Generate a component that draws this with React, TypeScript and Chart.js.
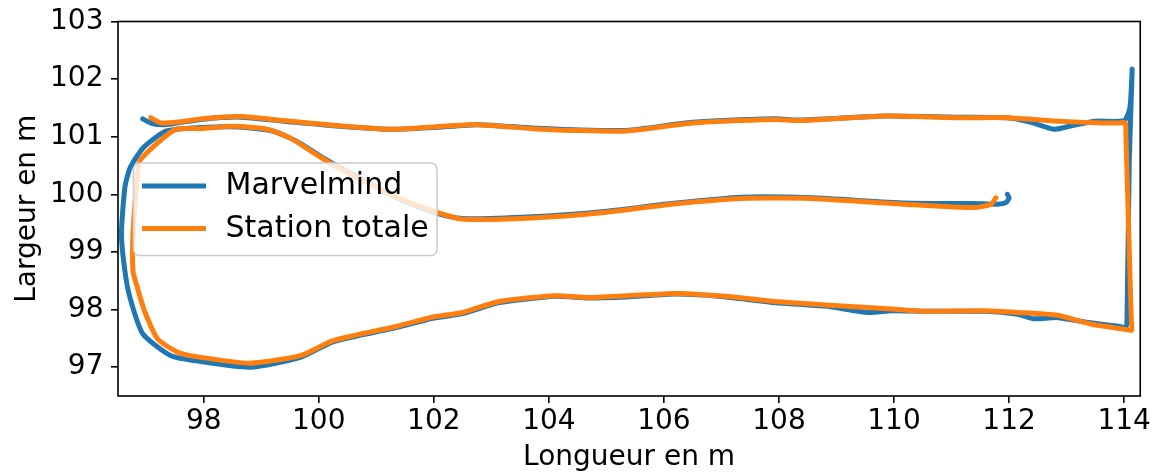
import React, { useEffect, useRef } from 'react';
import { Chart, registerables } from 'chart.js';

Chart.register(...registerables);

const seriesLabels = ['Marvelmind', 'Station totale'];
const seriesColors = ['#1f77b4', '#ff7f0e'];
const xTitle = 'Longueur en m';
const yTitle = 'Largeur en m';
const xTicks = [98, 100, 102, 104, 106, 108, 110, 112, 114];
const yTicks = [97, 98, 99, 100, 101, 102, 103];

const marvelmindX = [
  96.94, 97.10, 97.35, 97.95, 98.64, 99.39, 100.25, 101.23, 101.98, 102.78, 103.71, 104.45, 105.35,
  106.50, 107.94, 108.35, 109.84, 111.11, 111.97, 112.38, 112.78, 113.12, 113.50, 114.00, 114.10,
  114.14, 114.09, 114.05, 114.03, 113.90, 113.41, 112.84, 112.43, 112.15, 111.57, 110.53, 109.96, 109.55, 108.81,
  107.94, 107.08, 106.22, 105.35, 104.68, 104.11, 103.13, 102.50, 101.98, 101.40, 100.25, 99.68,
  98.81, 97.94, 97.43, 96.94, 96.72, 96.63, 96.57, 96.63, 96.72, 96.95, 97.35, 97.95, 98.60, 99.20,
  99.62, 100.10, 100.45, 101.40, 102.02, 102.49, 103.70, 104.92, 106.13, 107.35, 108.56, 110.18,
  111.39, 111.80, 111.95, 112.00, 111.97,
];
const marvelmindY = [
  101.31, 101.23, 101.21, 101.30, 101.34, 101.27, 101.19, 101.13, 101.16, 101.21, 101.15, 101.12, 101.11,
  101.25, 101.31, 101.29, 101.36, 101.34, 101.33, 101.25, 101.13, 101.20, 101.27, 101.28, 101.50,
  102.17, 100.60, 97.85, 97.69, 97.71, 97.77, 97.86, 97.84, 97.92, 97.97, 97.97, 97.98, 97.95, 98.06,
  98.12, 98.22, 98.27, 98.22, 98.20, 98.23, 98.12, 97.93, 97.85, 97.70, 97.44, 97.17,
  97.00, 97.10, 97.20, 97.58, 98.20, 98.67, 99.31, 100.12, 100.46, 100.81, 101.10, 101.16, 101.17, 101.10,
  100.92, 100.62, 100.42, 99.92, 99.68, 99.58, 99.61, 99.70, 99.84, 99.95, 99.94, 99.85,
  99.84, 99.83, 99.86, 99.94, 100.00,
];

const stationX = [
  97.08, 97.26, 97.58, 97.95, 98.64, 99.39, 100.25, 101.23, 101.98, 102.78, 103.71, 104.45, 105.35,
  106.50, 107.94, 108.35, 109.84, 111.11, 111.97, 112.84, 113.60, 113.90, 114.02, 114.03, 114.125, 114.13, 114.00, 113.41, 112.84,
  112.15, 111.57, 110.53, 109.96, 108.81, 107.94, 107.08, 106.22, 105.35, 104.68, 104.11, 103.13,
  102.50, 101.98, 101.40, 100.25, 99.68, 98.81, 97.95, 97.55, 97.20, 96.97, 96.83, 96.77, 96.77,
  96.83, 96.89, 97.23, 97.52, 97.95, 98.52, 99.10, 99.50, 99.96, 100.34, 101.38, 102.02, 102.49,
  103.70, 104.92, 106.13, 107.35, 108.56, 110.18, 111.39, 111.69, 111.77,
];
const stationY = [
  101.33, 101.24, 101.26, 101.31, 101.35, 101.28, 101.20, 101.13, 101.17, 101.21, 101.14, 101.11, 101.10,
  101.24, 101.30, 101.28, 101.36, 101.33, 101.33, 101.27, 101.24, 101.24, 101.24, 101.05, 97.80, 97.64, 97.66, 97.75, 97.90,
  97.95, 97.98, 97.97, 98.01, 98.08, 98.14, 98.23, 98.28, 98.24, 98.21, 98.24, 98.14,
  97.95, 97.87, 97.72, 97.46, 97.20, 97.07, 97.17, 97.26, 97.49, 97.98, 98.44, 98.67, 99.31,
  100.12, 100.58, 100.92, 101.13, 101.14, 101.18, 101.13, 100.98, 100.69, 100.46, 99.94, 99.70, 99.57,
  99.59, 99.68, 99.83, 99.93, 99.93, 99.83, 99.77, 99.83, 99.94,
];

const FONT = '"DejaVu Sans", "Liberation Sans", sans-serif';

const frameLegendPlugin = {
  id: 'frameLegend',
  afterDatasetsDraw(chart: any) {
    const { ctx, chartArea: a } = chart;
    ctx.save();
    // axes frame (all four spines)
    ctx.strokeStyle = '#000';
    ctx.lineWidth = 1.6;
    ctx.strokeRect(a.left, a.top, a.right - a.left, a.bottom - a.top);

    // legend box (upper-left area, inside the axes)
    const bx = a.left + 15.5;
    const by = a.top + 141.5;
    const bw = 303.5;
    const bh = 92.5;
    const r = 6;
    ctx.beginPath();
    ctx.moveTo(bx + r, by);
    ctx.lineTo(bx + bw - r, by);
    ctx.arcTo(bx + bw, by, bx + bw, by + r, r);
    ctx.lineTo(bx + bw, by + bh - r);
    ctx.arcTo(bx + bw, by + bh, bx + bw - r, by + bh, r);
    ctx.lineTo(bx + r, by + bh);
    ctx.arcTo(bx, by + bh, bx, by + bh - r, r);
    ctx.lineTo(bx, by + r);
    ctx.arcTo(bx, by, bx + r, by, r);
    ctx.closePath();
    ctx.fillStyle = 'rgba(255,255,255,0.8)';
    ctx.fill();
    ctx.strokeStyle = '#cccccc';
    ctx.lineWidth = 1.6;
    ctx.stroke();

    const ds = chart.data.datasets;
    const order = [1, 0];
    order.forEach((di: number, row: number) => {
      const d = ds[di];
      const cy = by + 23 + row * 42.5;
      ctx.beginPath();
      ctx.strokeStyle = d.borderColor;
      ctx.lineWidth = 5;
      ctx.lineCap = 'butt';
      ctx.moveTo(bx + 8.5, cy);
      ctx.lineTo(bx + 72.5, cy);
      ctx.stroke();
      ctx.fillStyle = '#000';
      ctx.font = `30px ${FONT}`;
      ctx.textBaseline = 'middle';
      ctx.textAlign = 'left';
      ctx.fillText(d.label, bx + 92, cy + 0.7);
    });
    ctx.restore();
  },
};

export default function App() {
  const ref = useRef<HTMLCanvasElement>(null);
  useEffect(() => {
    document.body.style.margin = '0';
    const toPts = (xs: number[], ys: number[]) => xs.map((x, i) => ({ x, y: ys[i] }));
    const tickFont = { family: FONT, size: 28, lineHeight: 1 };
    const titleFont = { family: FONT, size: 28, lineHeight: 1 };
    const lineStyle = {
      showLine: true,
      pointRadius: 0,
      borderWidth: 5,
      tension: 0.2,
      borderCapStyle: 'round',
      borderJoinStyle: 'round',
    };
    const chart = new Chart(ref.current as HTMLCanvasElement, {
      type: 'scatter',
      data: {
        datasets: [
          {
            ...lineStyle,
            label: seriesLabels[1],
            data: toPts(stationX, stationY),
            borderColor: seriesColors[1],
            backgroundColor: seriesColors[1],
            order: 0,
          },
          {
            ...lineStyle,
            label: seriesLabels[0],
            data: toPts(marvelmindX, marvelmindY),
            borderColor: seriesColors[0],
            backgroundColor: seriesColors[0],
            order: 1,
          },
        ],
      } as any,
      options: {
        animation: false,
        responsive: false,
        devicePixelRatio: 1,
        layout: { padding: { top: 20, right: 9, left: 0, bottom: 0 } },
        plugins: { legend: { display: false }, tooltip: { enabled: false } },
        events: [],
        scales: {
          x: {
            type: 'linear',
            position: 'bottom',
            min: 96.51,
            max: 114.28,
            afterBuildTicks: (s: any) => {
              s.ticks = xTicks.map((v) => ({ value: v }));
            },
            afterFit: (s: any) => {
              s.height = 77;
            },
            grid: { drawOnChartArea: false, drawTicks: true, tickLength: 7, color: '#000', lineWidth: 1.6 },
            border: { display: false },
            ticks: { font: tickFont, color: '#000', padding: 5, maxRotation: 0, autoSkip: false },
            title: { display: true, text: xTitle, font: titleFont, color: '#000', padding: { top: 0, bottom: 1.5 } },
          },
          y: {
            type: 'linear',
            position: 'left',
            min: 96.5,
            max: 103,
            afterBuildTicks: (s: any) => {
              s.ticks = yTicks.map((v) => ({ value: v }));
            },
            afterFit: (s: any) => {
              s.width = 118;
            },
            grid: { drawOnChartArea: false, drawTicks: true, tickLength: 7, color: '#000', lineWidth: 1.6 },
            border: { display: false },
            ticks: { font: tickFont, color: '#000', padding: 7.5, autoSkip: false },
            title: { display: true, text: yTitle, font: titleFont, color: '#000', padding: { top: 13.5, bottom: 0 } },
          },
        },
      } as any,
      plugins: [frameLegendPlugin],
    });
    return () => chart.destroy();
  }, []);
  return (
    <div style={{ width: 1156, height: 473 }}>
      <canvas ref={ref} width={1156} height={473} style={{ display: 'block' }} />
    </div>
  );
}
